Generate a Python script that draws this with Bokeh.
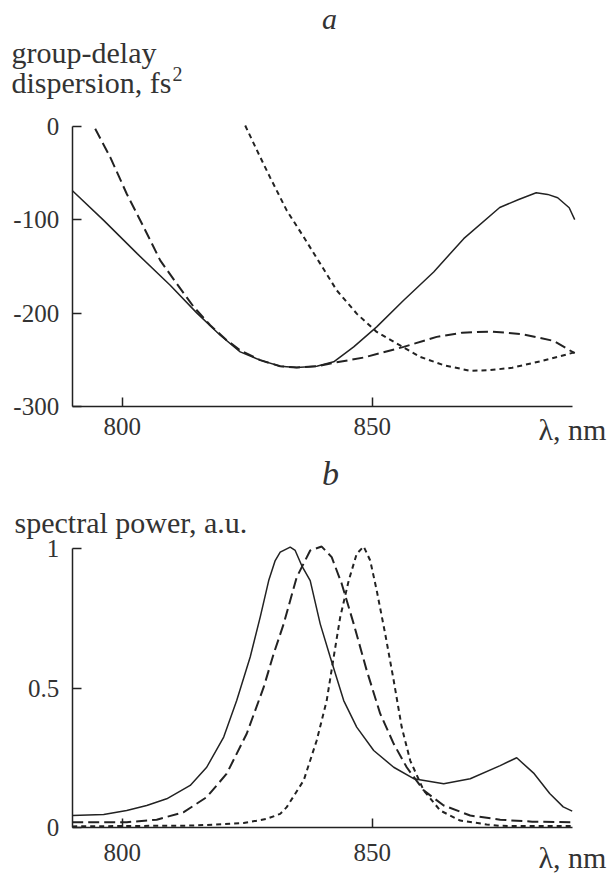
from bokeh.plotting import figure
from bokeh.models import Range1d, FixedTicker, Label, LinearAxis
from bokeh.embed import file_html
from bokeh.resources import INLINE

# ---- panel a: group-delay dispersion (fs^2) vs wavelength (nm)
a_solid_x = [790.0, 796.3, 803.0, 809.6, 814.9, 819.6, 823.6, 827.6, 831.6, 834.9, 838.9,
             842.3, 846.3, 850.9, 856.3, 862.3, 868.3, 875.5, 879.3, 882.8, 885.1, 887.1, 889.4, 890.5]
a_solid_y = [-68.8, -100.8, -136.4, -170.3, -199.8, -223.7, -241.5, -250.4, -257.0, -258.3, -256.9,
             -252.2, -236.2, -214.8, -186.3, -156.0, -120.4, -87.0, -78.4, -71.3, -73.0, -76.6, -87.3, -100.0]

a_long_x = [794.6, 797.6, 800.9, 804.3, 807.6, 810.9, 814.3, 817.6, 820.9, 823.6, 827.6, 831.6,
            834.9, 838.9, 842.3, 848.3, 856.3, 862.9, 868.0, 873.9, 880.0, 886.3, 890.5]
a_long_y = [-2.8, -33.1, -72.3, -108.0, -143.6, -168.5, -193.4, -213.0, -229.0, -239.8, -250.4, -256.9,
            -258.3, -257.0, -253.3, -247.6, -236.2, -225.5, -221.0, -219.8, -222.6, -229.8, -243.0]

a_short_x = [824.6, 827.6, 829.6, 832.9, 836.3, 839.6, 842.9, 846.9, 850.9, 854.9, 859.6, 864.3,
             869.6, 873.6, 878.0, 884.0, 890.5]
a_short_y = [0.7, -33.1, -55.0, -90.1, -118.6, -147.1, -175.6, -200.6, -220.2, -232.6, -246.9, -255.8,
             -261.8, -261.1, -258.5, -251.2, -242.0]

# ---- panel b: spectral power (a.u.) vs wavelength (nm)
b_solid_x = [790.0, 796.3, 800.9, 804.9, 808.9, 813.6, 816.9, 820.3, 822.9, 825.6, 827.6, 829.3,
             830.6, 831.6, 833.6, 834.6, 835.9, 837.6, 839.6, 841.6, 844.3, 846.9, 850.3, 854.3,
             858.3, 864.3, 869.6, 875.6, 878.9, 882.4, 885.5, 888.2, 890.0]
b_solid_y = [0.044, 0.048, 0.062, 0.080, 0.104, 0.152, 0.217, 0.325, 0.456, 0.612, 0.755, 0.886,
             0.958, 0.988, 1.006, 0.994, 0.940, 0.886, 0.731, 0.612, 0.456, 0.361, 0.277, 0.217,
             0.176, 0.158, 0.176, 0.223, 0.251, 0.194, 0.123, 0.075, 0.060]

b_long_x = [790.0, 800.9, 806.9, 812.3, 816.9, 820.9, 824.9, 828.3, 830.3, 832.3, 834.9, 837.6,
            839.9, 841.9, 843.9, 846.3, 848.9, 851.6, 854.3, 856.9, 860.3, 864.3, 869.6, 875.6, 882.0, 890.0]
b_long_y = [0.020, 0.020, 0.029, 0.056, 0.110, 0.194, 0.337, 0.504, 0.624, 0.731, 0.898, 0.994,
            1.008, 0.970, 0.875, 0.731, 0.564, 0.409, 0.301, 0.217, 0.134, 0.080, 0.044, 0.029, 0.022, 0.020]

b_short_x = [790.0, 814.3, 824.3, 828.9, 831.6, 832.9, 836.3, 838.9, 840.9, 842.3, 843.6, 845.3,
             846.9, 848.3, 849.6, 850.9, 852.6, 854.3, 855.9, 857.6, 860.3, 863.6, 867.6, 872.9, 875.6, 890.0]
b_short_y = [0.005, 0.008, 0.017, 0.032, 0.050, 0.074, 0.170, 0.313, 0.456, 0.612, 0.755, 0.886,
             0.982, 1.008, 0.958, 0.851, 0.695, 0.528, 0.361, 0.241, 0.134, 0.062, 0.026, 0.012, 0.007, 0.006]

x_ticks = [800, 850]
x_bounds = (790, 890)
a_yticks = [0, -100, -200, -300]
a_ylabels = ["0", "-100", "-200", "-300"]
a_bounds = (-300, 0)
b_yticks = [0, 0.5, 1]
b_ylabels = ["0", "0.5", "1"]
b_bounds = (0, 1)

FONT = "Liberation Serif"
INK = "#222222"
TXT = "#333333"

W, H = 608, 873
A_RANGE = (-799.85, 134.54)
B_RANGE = (-0.1638, 2.9652)

# whole canvas is the plotting frame; axes are pinned at fixed data locations
p = figure(width=W, height=H, output_backend="svg", toolbar_location=None,
           x_axis_location=None, y_axis_location=None,
           x_range=Range1d(775.66, 897.26), y_range=Range1d(*A_RANGE),
           min_border=0, min_border_left=0, min_border_right=0,
           min_border_top=0, min_border_bottom=0)
p.extra_y_ranges = {"b": Range1d(*B_RANGE)}
p.outline_line_color = None
p.background_fill_color = "white"
p.border_fill_color = "white"
p.xgrid.visible = False
p.ygrid.visible = False


def b_to_a(v):
    """value on the panel-b scale expressed on the panel-a (default) scale"""
    f = (v - B_RANGE[0]) / (B_RANGE[1] - B_RANGE[0])
    return A_RANGE[0] + f * (A_RANGE[1] - A_RANGE[0])


def style_axis(ax, ticks, labels, standoff):
    ax.ticker = FixedTicker(ticks=ticks)
    ax.major_label_overrides = dict(zip(ticks, labels))
    ax.axis_line_color = INK
    ax.axis_line_width = 1.5
    ax.major_tick_line_color = INK
    ax.major_tick_line_width = 1.5
    ax.major_tick_in = 9
    ax.major_tick_out = 0
    ax.minor_tick_line_color = None
    ax.major_label_text_font = FONT
    ax.major_label_text_font_size = "25px"
    ax.major_label_text_color = TXT
    ax.major_label_standoff = standoff


xlabels = [str(t) for t in x_ticks]

ax_a_x = LinearAxis(fixed_location=a_bounds[0], bounds=x_bounds)
style_axis(ax_a_x, x_ticks, xlabels, 12)
p.add_layout(ax_a_x, "below")

ax_a_y = LinearAxis(fixed_location=x_bounds[0], bounds=a_bounds)
style_axis(ax_a_y, a_yticks, a_ylabels, 13)
p.add_layout(ax_a_y, "left")

ax_b_x = LinearAxis(fixed_location=b_to_a(b_bounds[0]), bounds=x_bounds)
style_axis(ax_b_x, x_ticks, xlabels, 16)
p.add_layout(ax_b_x, "below")

ax_b_y = LinearAxis(fixed_location=x_bounds[0], bounds=b_bounds, y_range_name="b")
style_axis(ax_b_y, b_yticks, b_ylabels, 13)
p.add_layout(ax_b_y, "left")

# curves
p.line(a_solid_x, a_solid_y, line_color=INK, line_width=1.5)
p.line(a_long_x, a_long_y, line_color=INK, line_width=2, line_dash="11 5")
p.line(a_short_x, a_short_y, line_color=INK, line_width=2, line_dash="5 4")
p.line(b_solid_x, b_solid_y, line_color=INK, line_width=1.5, y_range_name="b")
p.line(b_long_x, b_long_y, line_color=INK, line_width=2, line_dash="11 5", y_range_name="b")
p.line(b_short_x, b_short_y, line_color=INK, line_width=2, line_dash="5 4", y_range_name="b")


def txt(x, y, s, size, align="left", style_="normal", rng="default"):
    p.add_layout(Label(x=x, y=y, text=s, text_font=FONT, text_font_size=size,
                       text_color=TXT, text_align=align, text_baseline="middle",
                       text_font_style=style_, y_range_name=rng))


# panel a texts (data units of the dispersion scale)
txt(841.46, 115.3, "a", "30px", "center", "italic")
txt(777.86, 78.9, "group-delay", "30px")
txt(777.86, 46.8, "dispersion, fs", "30px")
txt(810.06, 56.2, "2", "20px")
txt(883.26, -324.6, "\u03bb, nm", "30px")
# panel b texts (data units of the spectral-power scale)
txt(841.66, 1.2698, "b", "34px", "center", "italic", "b")
txt(778.46, 1.0942, "spectral power, a.u.", "30px", rng="b")
txt(883.26, -0.1065, "\u03bb, nm", "30px", rng="b")

open("out.html", "w").write(file_html(p, INLINE))
